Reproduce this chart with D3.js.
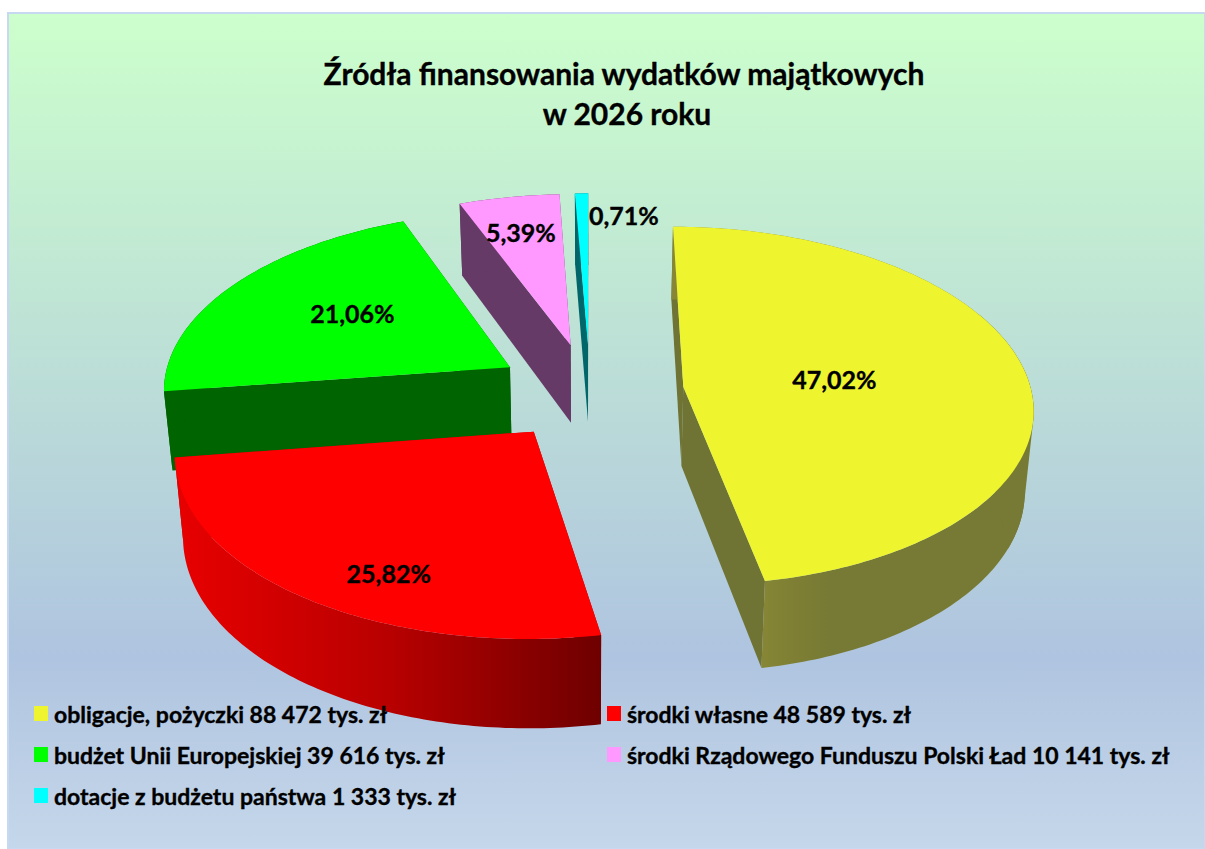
<!DOCTYPE html>
<html lang="pl"><head><meta charset="utf-8">
<script src="https://cdn.jsdelivr.net/npm/d3@7/dist/d3.min.js"></script>
<style>html,body{margin:0;padding:0;background:#fff}svg{display:block}text{font-family:Lato,"Noto Sans",sans-serif;font-weight:700;fill:#000;stroke:#000;stroke-width:.35px}</style>
</head><body><div id="c"></div>
<script>
const titleLines = ["Źródła finansowania wydatków majątkowych", "w 2026 roku"];
const categories = ["obligacje, pożyczki", "środki własne", "budżet Unii Europejskiej", "środki Rządowego Funduszu Polski Ład", "dotacje z budżetu państwa"];
const values = [88472, 48589, 39616, 10141, 1333];
const percentLabels = ["47,02%", "25,82%", "21,06%", "5,39%", "0,71%"];
const topColors = ["#eef52f", "#ff0000", "#00ff00", "#ff99ff", "#00ffff"];
const faceColors = ["#6f7333", "#b00000", "#006400", "#663a66", "#00666a"];

// layout
const W = 1205, H = 849;
const cx = 590, cy = 391.3, RX = 348, YA = 180, YB = 19, PK = 0.11, EXPLODE = 0.27;
const labelPolar = [[0.44, 85], [0.795, 207.5], [0.578, 303], [0.735, 347], [0.84, 8]];
const legendCols = [34, 607], legendRows = [714, 755, 796];

const svg = d3.select("#c").append("svg").attr("width", W).attr("height", H);
const defs = svg.append("defs");
const bg = defs.append("linearGradient").attr("id", "bg").attr("x1", 0).attr("y1", 0).attr("x2", 0).attr("y2", 1);
[[0, "#ccffcc"], [0.77, "#afc4e0"], [1, "#c5d7ea"]].forEach(s => bg.append("stop").attr("offset", s[0]).attr("stop-color", s[1]));
const redG = defs.append("linearGradient").attr("id", "redWall").attr("gradientUnits", "userSpaceOnUse").attr("x1", 175).attr("x2", 603).attr("y1", 0).attr("y2", 0);
[[0, "#e80000"], [0.5, "#b80000"], [1, "#6e0000"]].forEach(s => redG.append("stop").attr("offset", s[0]).attr("stop-color", s[1]));
const yelG = defs.append("linearGradient").attr("id", "yelWall").attr("gradientUnits", "userSpaceOnUse").attr("x1", 762).attr("x2", 830).attr("y1", 0).attr("y2", 0);
[[0, "#868636"], [0.4, "#808034"], [1, "#767a34"]].forEach(s => yelG.append("stop").attr("offset", s[0]).attr("stop-color", s[1]));

svg.append("rect").attr("x", 8).attr("y", 13).attr("width", W - 8).attr("height", H - 13)
  .attr("fill", "url(#bg)").attr("stroke", "#c6d9f0").attr("stroke-width", 2);

const project = (u, v) => [cx + RX * u * (1 + PK * v), cy + YA * v + YB * v * v];
const lower = p => [p[0] + (cx - p[0]) * 0.02, p[1] + 72 + (p[1] - 205) * 0.04];
const pie = d3.pie().sort(null);
const slices = pie(values);
const line = d3.line();

slices.forEach(s => {
  s.mid = (s.startAngle + s.endAngle) / 2;
  s.eu = EXPLODE * Math.sin(s.mid);
  s.ev = -EXPLODE * Math.cos(s.mid);
  s.at = (a, r = 1) => project(s.eu + r * Math.sin(a), s.ev - r * Math.cos(a));
  const n = Math.max(4, Math.ceil((s.endAngle - s.startAngle) * 60));
  s.angles = d3.range(n + 1).map(i => s.startAngle + (s.endAngle - s.startAngle) * i / n);
  s.rim = s.angles.map(a => s.at(a));
  s.apex = s.at(0, 0);
});

const wallFill = ["url(#yelWall)", "url(#redWall)", null, null, null];
const drawOrder = [2, 3, 4, 0, 1];
drawOrder.forEach(i => {
  const s = slices[i], g = svg.append("g");
  const first = s.rim[0], last = s.rim[s.rim.length - 1];
  const fill = wallFill[i] || faceColors[i];
  const face = (a, b) => g.append("path")
    .attr("d", line([a, b, lower(b), lower(a)]) + "Z").attr("fill", faceColors[i]);
  face(s.apex, first);
  face(s.apex, last);
  g.append("path")
    .attr("d", line(s.rim.concat(s.rim.map(lower).reverse())) + "Z")
    .attr("fill", fill);
  // silhouette of the side wall where the rim turns at the far right
  const turn = s.rim.filter((p, k) => Math.abs(s.angles[k] - Math.PI / 2) < 0.45);
  if (turn.length > 2) {
    g.append("path")
      .attr("d", line(d3.polygonHull(turn.concat(turn.map(lower)))) + "Z")
      .attr("fill", faceColors[0] === faceColors[i] ? "#767a34" : fill);
  }
  g.append("path")
    .attr("d", line([s.apex].concat(s.rim)) + "Z")
    .attr("fill", topColors[i]);
});

const title = svg.append("text").attr("text-anchor", "middle").attr("font-size", 30);
titleLines.forEach((t, i) => title.append("tspan").attr("x", i ? 627 : 624).attr("y", 85 + i * 40).text(t));

slices.forEach((s, i) => {
  const [r, deg] = labelPolar[i], p = s.at(deg * Math.PI / 180, r);
  svg.append("text").attr("x", p[0]).attr("y", p[1]).attr("dy", "0.35em")
    .attr("text-anchor", "middle").attr("font-size", 25).text(percentLabels[i]);
});

const fmt = v => String(v).replace(/\B(?=(\d{3})+$)/g, " ");
categories.forEach((c, i) => {
  const x = legendCols[i % 2], y = legendRows[Math.floor(i / 2)];
  svg.append("rect").attr("x", x).attr("y", y - 8).attr("width", 14).attr("height", 15).attr("fill", topColors[i]);
  svg.append("text").attr("x", x + 20).attr("y", y + 8.5).attr("font-size", 23).text(`${c} ${fmt(values[i])} tys. zł`);
});
</script></body></html>
